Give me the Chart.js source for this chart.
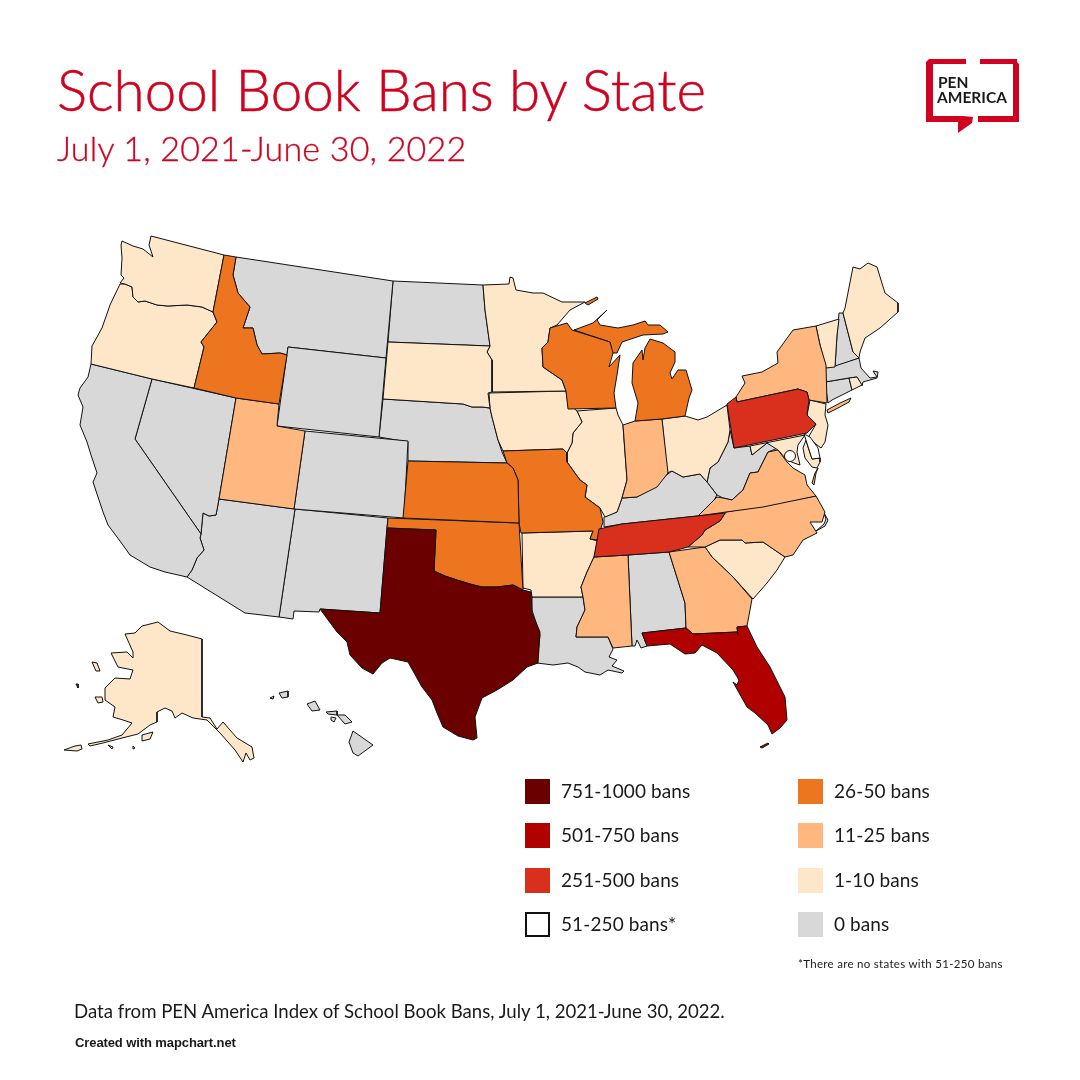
<!DOCTYPE html>
<html>
<head>
<meta charset="utf-8">
<title>School Book Bans by State</title>
<script src="https://cdn.jsdelivr.net/npm/chart.js@4"></script>
<style>
  html, body { margin: 0; background: #fff; }
  #page { position: relative; width: 1080px; height: 1080px; overflow: hidden; font-family: Lato, sans-serif; color: #1a1a1a; }
  #map { position: absolute; left: 0; top: 0; }
  .t { position: absolute; white-space: nowrap; line-height: 1; }
  #title { left: 57px; top: 61px; font-size: 56.5px; font-weight: 300; color: #d0021f; -webkit-text-stroke: 0.5px #d0021f; }
  #subtitle { left: 57px; top: 131px; font-size: 34px; font-weight: 300; color: #d0021f; letter-spacing: 0.2px; -webkit-text-stroke: 0.3px #d0021f; }
  .lab { font-size: 19px; font-weight: 400; letter-spacing: 0.1px; }
  .swatch { position: absolute; width: 25px; height: 25px; box-sizing: border-box; }
  #note { left: 798px; top: 958px; font-size: 11.5px; letter-spacing: 0.3px; }
  #source { left: 74px; top: 1002px; font-size: 18.6px; }
  #credit { left: 75px; top: 1036px; font-family: "Liberation Sans", sans-serif; font-weight: bold; font-size: 13px; letter-spacing: -0.1px; }
  #logo { position: absolute; left: 920px; top: 50px; }
</style>
</head>
<body>
<div id="page">
  <canvas id="map" width="1080" height="1080"></canvas>
  <div class="t" id="title">School Book Bans by State</div>
  <div class="t" id="subtitle">July 1, 2021-June 30, 2022</div>
  <svg id="logo" width="110" height="90" viewBox="920 50 110 90">
    <g fill="#d0021f">
      <path d="M929 59H966V64H933V116H963V122H958V133L972 123L973 117L963 116V122H926V62Z"/>
      <path d="M980 59H1017V62L1019 64V122H978V116H1013V64H980Z"/>
    </g>
    <text x="938" y="88" font-family="Lato" font-weight="700" font-size="15.5" fill="#1a1a1a">PEN</text>
    <text x="937" y="103" font-family="Lato" font-weight="700" font-size="15.5" fill="#1a1a1a">AMERICA</text>
  </svg>
  <div class="t" id="note">*There are no states with 51-250 bans</div>
  <div class="t" id="source">Data from PEN America Index of School Book Bans, July 1, 2021-June 30, 2022.</div>
  <div class="t" id="credit">Created with mapchart.net</div>
</div>
<script>
// state outlines (image pixels, x right, y down)
const WA = [[122,241],[121,245],[122,258],[121,275],[124,278],[120,283],[125,284],[132,287],[133,297],[138,302],[145,301],[157,305],[168,306],[187,305],[202,307],[213,312],[224,255],[151,236],[149,245],[153,257],[148,253],[143,249],[133,246]];
const OR = [[120,284],[110,305],[102,328],[92,346],[91,364],[152,379],[194,388],[204,347],[201,342],[217,322],[213,312],[202,307],[187,305],[168,306],[157,305],[145,301],[138,302],[133,297],[132,287],[125,284]];
const CA = [[91,364],[152,379],[135,439],[201,534],[200,538],[204,550],[197,558],[192,570],[187,577],[165,572],[150,567],[130,555],[120,541],[108,525],[103,512],[93,482],[97,473],[91,455],[87,442],[80,425],[83,407],[78,395],[80,388],[88,377]];
const NV = [[152,379],[236,398],[219,499],[216,515],[209,516],[203,513],[202,523],[201,534],[135,439]];
const AZ = [[219,499],[295,509],[279,617],[245,613],[187,577],[192,570],[197,558],[204,550],[200,538],[201,534],[202,523],[203,513],[209,516],[216,515]];
const UT = [[236,398],[279,404],[277,426],[305,431],[294,509],[219,499]];
const CO = [[305,431],[408,441],[404,518],[294,509]];
const NM = [[295,509],[388,518],[387,528],[380,613],[320,609],[319,612],[294,611],[293,619],[279,617]];
const WY = [[288,347],[386,358],[379,437],[277,426]];
const ID = [[224,255],[236,257],[233,275],[238,293],[250,307],[243,328],[253,328],[257,345],[262,354],[280,353],[287,355],[279,404],[236,398],[194,388],[204,347],[201,342],[217,322],[213,312]];
const MT = [[236,257],[393,281],[386,358],[288,347],[287,355],[280,353],[262,354],[257,345],[253,328],[243,328],[250,307],[238,293],[233,275]];
const ND = [[393,281],[483,285],[485,310],[490,346],[388,342]];
const SD = [[388,342],[490,346],[487,352],[492,360],[492,392],[488,393],[490,408],[482,407],[472,407],[463,404],[383,399]];
const NE = [[383,399],[463,404],[472,407],[482,407],[490,408],[492,417],[498,440],[502,452],[507,463],[408,461],[408,442],[379,437]];
const KS = [[408,461],[507,463],[513,468],[518,480],[519,523],[403,518]];
const OK = [[388,518],[519,523],[523,590],[513,585],[497,587],[482,587],[470,584],[457,580],[445,576],[434,571],[436,530],[387,528]];
const TX = [[387,528],[436,530],[434,571],[445,576],[457,580],[470,584],[482,587],[497,587],[513,585],[523,590],[531,592],[532,613],[540,632],[538,663],[527,667],[513,680],[497,690],[482,698],[475,717],[477,738],[473,740],[458,736],[443,727],[437,713],[432,700],[422,687],[408,662],[390,658],[382,663],[373,674],[362,668],[350,655],[347,642],[337,632],[320,609],[380,613]];
const MN = [[483,285],[509,284],[510,277],[513,278],[516,290],[533,293],[543,293],[562,302],[585,302],[570,310],[557,325],[550,328],[548,342],[542,348],[543,367],[562,380],[566,391],[492,392],[492,360],[487,352],[490,346],[485,310]];
const IA = [[489,393],[566,391],[568,403],[577,411],[582,422],[573,433],[572,443],[567,453],[563,449],[503,451],[498,440],[492,417],[490,408]];
const MO = [[503,451],[563,449],[567,453],[567,462],[580,480],[587,485],[585,497],[600,508],[603,522],[597,540],[590,539],[593,531],[521,533],[519,523],[518,480],[513,468],[507,463]];
const AR = [[522,533],[593,531],[590,539],[598,541],[594,557],[587,572],[581,587],[583,597],[532,597],[531,590],[523,588]];
const LA = [[532,597],[583,597],[585,610],[577,627],[576,637],[608,637],[613,649],[609,657],[617,660],[612,666],[624,671],[622,673],[608,670],[600,675],[585,672],[578,667],[568,663],[553,665],[537,663],[540,635],[532,610]];
const MS = [[594,557],[628,555],[632,646],[613,648],[608,637],[576,637],[577,627],[585,610],[583,597],[581,587],[587,572]];
const AL = [[628,555],[669,552],[685,603],[686,628],[642,633],[647,646],[641,648],[637,640],[635,646],[632,646]];
const GA = [[669,552],[705,547],[712,557],[733,577],[752,599],[747,626],[737,627],[738,635],[737,632],[693,634],[686,628],[685,603]];
const FL = [[642,633],[686,628],[693,634],[737,632],[738,635],[737,627],[747,626],[757,647],[770,667],[785,697],[787,720],[780,728],[772,734],[768,725],[755,713],[747,707],[733,682],[737,685],[739,680],[733,670],[717,653],[702,645],[695,653],[685,654],[670,644],[647,646]];
const FLkeys = [[760,747],[768,743],[769,744],[762,748]];
const TN = [[594,557],[599,529],[622,524],[725,513],[720,521],[705,530],[702,535],[688,547],[669,552],[628,555]];
const KY = [[604,527],[604,517],[617,512],[622,498],[637,497],[652,488],[660,480],[672,471],[683,477],[700,474],[707,482],[717,495],[707,512],[698,516],[622,524]];
const IL = [[577,411],[616,408],[618,415],[623,425],[627,480],[622,498],[617,512],[605,517],[600,508],[585,497],[587,485],[580,480],[567,462],[567,453],[572,443],[573,433],[582,422]];
const WI = [[550,328],[567,323],[572,330],[610,342],[613,353],[609,367],[620,355],[617,375],[614,393],[616,408],[568,409],[566,391],[562,380],[543,367],[542,348],[548,342]];
const MIupper = [[574,330],[593,323],[607,310],[597,320],[600,325],[618,328],[633,325],[645,321],[648,325],[660,325],[668,332],[663,334],[643,335],[622,342],[617,353],[612,353],[610,342]];
const MIlower = [[635,421],[662,419],[685,416],[689,398],[692,390],[686,370],[678,370],[672,379],[670,373],[675,362],[675,352],[663,343],[650,339],[645,348],[643,360],[642,350],[633,363],[632,383],[638,403]];
const MIisle = [[585,303],[597,297],[598,299],[588,305]];
const IN = [[623,425],[635,421],[662,419],[668,473],[657,487],[637,497],[622,498],[627,480]];
const OH = [[662,419],[685,416],[698,420],[707,417],[727,405],[730,430],[728,442],[718,462],[710,468],[707,482],[700,474],[683,477],[672,471],[667,473]];
const PA = [[727,404],[736,397],[737,402],[798,389],[807,392],[809,400],[807,415],[816,424],[807,433],[734,448]];
const NY = [[737,402],[736,397],[745,383],[742,376],[762,372],[778,363],[777,352],[793,330],[816,326],[820,345],[826,365],[827,403],[809,400],[807,392],[798,389]];
const NYisland = [[827,410],[840,403],[851,398],[849,402],[838,408],[828,413]];
const VT = [[816,326],[839,319],[837,335],[835,367],[826,368],[820,345]];
const NH = [[839,313],[843,313],[853,352],[859,358],[835,366],[837,335]];
const ME = [[843,313],[845,308],[853,267],[860,269],[868,263],[877,267],[885,293],[898,303],[898,312],[880,328],[865,338],[860,352],[859,358],[853,352]];
const MA = [[825,368],[859,358],[861,368],[870,378],[877,377],[873,371],[878,372],[877,378],[863,382],[862,386],[857,377],[849,378],[825,382]];
const CT = [[825,382],[849,378],[852,390],[832,400],[828,403]];
const RI = [[849,378],[857,377],[862,385],[852,390]];
const NJ = [[810,400],[826,404],[825,415],[828,425],[825,442],[821,448],[808,438],[816,424],[807,415]];
const DE = [[804,434],[810,437],[818,448],[820,458],[812,459]];
const MD = [[750,446],[805,435],[798,445],[797,452],[800,465],[794,463],[787,460],[778,450],[767,443],[752,455]];
const MDeast = [[808,447],[812,459],[820,458],[820,462],[817,468],[812,467],[805,458],[803,448],[806,440]];
const WV = [[730,430],[734,448],[750,446],[752,455],[767,443],[778,448],[768,452],[758,472],[750,473],[743,490],[732,500],[723,498],[717,495],[707,482],[710,468],[718,462],[728,442]];
const VA = [[698,516],[717,497],[723,498],[732,500],[743,490],[750,473],[758,472],[768,452],[778,450],[787,462],[793,468],[805,475],[807,485],[816,496],[763,507],[726,512]];
const VAshore = [[812,483],[815,473],[818,468],[816,473],[814,485]];
const NC = [[726,512],[816,496],[825,512],[822,522],[810,522],[817,533],[803,540],[793,555],[785,557],[763,542],[745,543],[742,540],[720,540],[705,547],[688,547],[702,535],[705,530],[720,521]];
const NCbanks = [[823,511],[828,520],[825,526],[816,531],[824,524],[826,519]];
const SC = [[705,547],[720,540],[742,540],[745,543],[763,542],[785,557],[777,570],[767,583],[753,599],[733,577],[712,557]];
const AK = [[202,639],[202,717],[210,718],[217,729],[223,722],[237,738],[252,747],[254,758],[250,760],[246,753],[243,762],[235,750],[220,733],[207,720],[193,718],[182,713],[175,718],[172,711],[165,708],[157,712],[157,722],[150,725],[138,734],[122,738],[103,743],[90,746],[88,744],[108,740],[122,735],[132,723],[123,720],[113,717],[115,707],[105,700],[105,688],[115,678],[130,679],[133,670],[118,667],[111,653],[127,652],[133,658],[133,652],[125,634],[135,633],[142,626],[158,622],[170,631],[187,635]];
const AKnunivak = [[95,697],[102,697],[103,702],[98,703]];
const AKlawrence = [[92,662],[97,663],[100,671],[96,671]];
const AKsmall = [[76,684],[78,684],[78,688]];
const AKkodiak = [[142,735],[153,732],[150,739],[142,741]];
const AKaleut = [[64,750],[75,746],[81,745],[82,749],[77,751]];
const AKaleut2 = [[108,745],[113,747],[112,749]];
const AKaleut3 = [[133,746],[135,748],[133,749]];
const HIbig = [[353,731],[373,745],[358,756],[353,753],[349,742]];
const HImaui = [[337,715],[345,715],[352,722],[345,724]];
const HImolokai = [[326,712],[337,711],[337,715],[328,714]];
const HIlanai = [[331,717],[336,718],[334,722],[331,720]];
const HIoahu = [[307,704],[315,701],[320,710],[312,711]];
const HIkauai = [[279,693],[288,691],[288,697],[282,698]];
const HIniihau = [[270,698],[274,696],[273,699]];
const DC = [[790,456]];

// which range each state falls in
const bans751to1000 = [TX];
const bans501to750 = [FL, FLkeys];
const bans251to500 = [PA, TN];
const bans51to250 = [DE];
const bans26to50 = [ID, KS, OK, MO, WI, MIupper, MIlower, MIisle];
const bans11to25 = [UT, NY, NYisland, IN, VA, VAshore, NC, GA, MS];
const bans1to10 = [WA, OR, SD, MN, IA, IL, AR, OH, SC, ME, VT, NJ, MD, MDeast, RI, AK, AKnunivak, AKlawrence, AKsmall, AKkodiak, AKaleut, AKaleut2, AKaleut3];
const bans0 = [CA, NV, AZ, CO, NM, WY, MT, ND, NE, LA, AL, KY, WV, NH, MA, CT, NCbanks, HIbig, HImaui, HImolokai, HIlanai, HIoahu, HIkauai, HIniihau];

const groups = [bans751to1000, bans501to750, bans251to500, bans51to250, bans26to50, bans11to25, bans1to10, bans0];
const legendLabels = ["751-1000 bans", "501-750 bans", "251-500 bans", "51-250 bans*", "26-50 bans", "11-25 bans", "1-10 bans", "0 bans"];
const colors = ["#6b0000", "#b00000", "#d9301e", "#ffffff", "#ee751f", "#fdb77f", "#fee6c8", "#d8d8d8"];

const datasets = [];
groups.forEach((group, i) => {
    group.forEach(shape => {
        const pts = shape.concat([shape[0]]).map(p => ({ x: p[0], y: p[1] }));
        datasets.push({
            data: pts,
            showLine: true,
            fill: "shape",
            backgroundColor: colors[i],
            borderColor: "#111",
            borderWidth: 1,
            pointRadius: 0,
            tension: 0
        });
    });
});
// the white dot for D.C. goes on top
datasets.unshift({
    data: DC.map(p => ({ x: p[0], y: p[1] })),
    pointRadius: 5.5,
    pointBackgroundColor: "#fff",
    pointBorderColor: "#111",
    pointBorderWidth: 1
});

new Chart(document.getElementById("map"), {
    type: "scatter",
    data: { datasets: datasets },
    options: {
        responsive: false,
        animation: false,
        layout: { padding: 0, autoPadding: false },
        plugins: { legend: { display: false }, tooltip: { enabled: false } },
        scales: {
            x: { type: "linear", min: 0, max: 1080, display: false },
            y: { type: "linear", min: 0, max: 1080, reverse: true, display: false }
        }
    }
});

// legend, two columns of four
const page = document.getElementById("page");
legendLabels.forEach((label, i) => {
    const col = i < 4 ? 0 : 1;
    const row = i % 4;
    const left = col === 0 ? 525 : 798;
    const top = 779 + row * 44.4;
    const sw = document.createElement("div");
    sw.className = "swatch";
    sw.style.left = left + "px";
    sw.style.top = top + "px";
    sw.style.background = colors[i];
    if (i === 3) sw.style.border = "2px solid #111";
    page.appendChild(sw);
    const t = document.createElement("div");
    t.className = "t lab";
    t.textContent = label;
    t.style.left = left + 36 + "px";
    t.style.top = top + 2 + "px";
    page.appendChild(t);
});
</script>
</body>
</html>
